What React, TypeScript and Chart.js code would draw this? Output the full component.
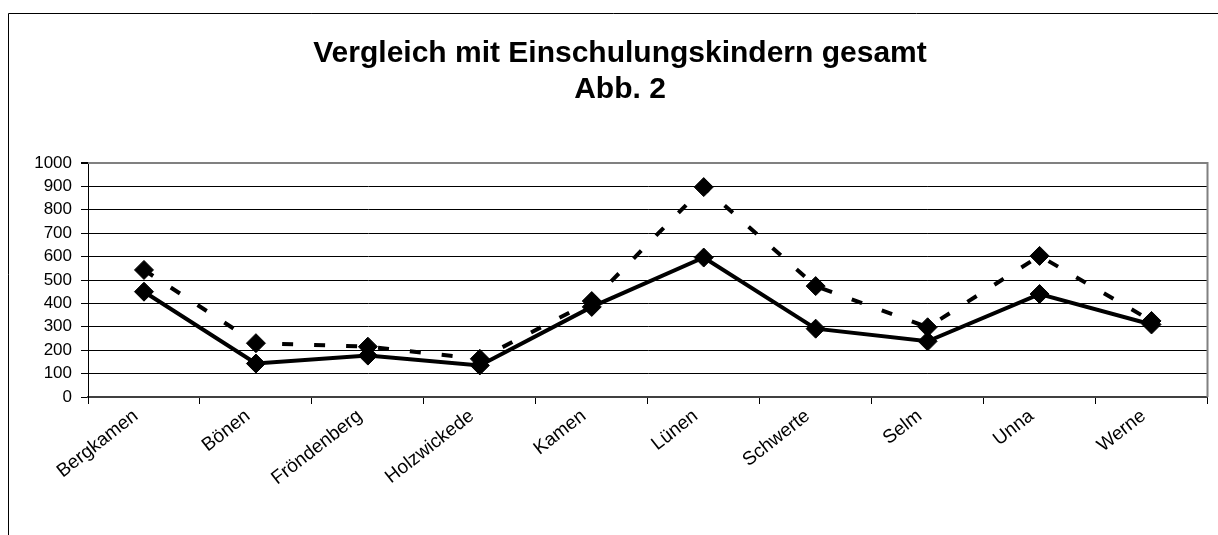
import React, { useEffect, useRef } from "react";
import { Chart, registerables } from "chart.js";

Chart.register(...registerables);

const categories = [
  "Bergkamen",
  "Bönen",
  "Fröndenberg",
  "Holzwickede",
  "Kamen",
  "Lünen",
  "Schwerte",
  "Selm",
  "Unna",
  "Werne",
];

const solidValues = [450, 143, 177, 135, 385, 596, 292, 238, 440, 310];
const dashedValues = [543, 230, 215, 163, 410, 897, 474, 298, 603, 325];

const titleLines = ["Vergleich mit Einschulungskindern gesamt", "Abb. 2"];

const yMin = 0;
const yMax = 1000;
const yStep = 100;

const FONT = "'Liberation Sans', Arial, Helvetica, sans-serif";

const framePlugin = {
  id: "frameAndPlotBorder",
  beforeDraw(chart: any) {
    const { ctx, width, height } = chart;
    ctx.save();
    ctx.fillStyle = "#ffffff";
    ctx.fillRect(0, 0, width, height);
    ctx.strokeStyle = "#000000";
    ctx.lineWidth = 1;
    ctx.beginPath();
    ctx.moveTo(8.5, height + 5);
    ctx.lineTo(8.5, 13.5);
    ctx.lineTo(width + 5, 13.5);
    ctx.stroke();
    ctx.restore();
  },
  beforeDatasetsDraw(chart: any) {
    const { ctx, chartArea } = chart;
    ctx.save();
    ctx.strokeStyle = "#808080";
    ctx.lineWidth = 2;
    ctx.beginPath();
    ctx.moveTo(chartArea.left, chartArea.top);
    ctx.lineTo(chartArea.right, chartArea.top);
    ctx.lineTo(chartArea.right, chartArea.bottom);
    ctx.stroke();
    ctx.restore();
  },
};

export default function App() {
  const canvasRef = useRef<HTMLCanvasElement | null>(null);

  useEffect(() => {
    document.body.style.margin = "0";
    const canvas = canvasRef.current;
    if (!canvas) return;
    const chart = new Chart(canvas, {
      type: "line",
      data: {
        labels: categories,
        datasets: [
          {
            label: "Einschulungskinder gesamt",
            data: dashedValues,
            borderColor: "#000000",
            backgroundColor: "#000000",
            borderWidth: 4,
            borderDash: [11, 21],
            borderCapStyle: "butt",
            pointStyle: "rectRot",
            pointRadius: 9.5,
            pointBorderWidth: 1,
            pointBackgroundColor: "#000000",
            pointBorderColor: "#000000",
            tension: 0,
            fill: false,
          },
          {
            label: "Vergleich",
            data: solidValues,
            borderColor: "#000000",
            backgroundColor: "#000000",
            borderWidth: 4,
            pointStyle: "rectRot",
            pointRadius: 9.5,
            pointBorderWidth: 1,
            pointBackgroundColor: "#000000",
            pointBorderColor: "#000000",
            tension: 0,
            fill: false,
          },
        ],
      },
      options: {
        responsive: false,
        animation: false,
        devicePixelRatio: 1,
        layout: { padding: { left: 31, right: 9, top: 0, bottom: 0 } },
        plugins: {
          legend: { display: false },
          tooltip: { enabled: false },
          title: {
            display: true,
            text: titleLines,
            color: "#000000",
            font: { family: FONT, size: 30, weight: "bold", lineHeight: 1.2 },
            padding: { top: 36, bottom: 55 },
          },
        },
        scales: {
          x: {
            type: "category",
            offset: true,
            grid: {
              display: true,
              offset: true,
              drawOnChartArea: false,
              drawTicks: true,
              tickLength: 7,
              color: "#000000",
            },
            border: { display: true, color: "#404040", width: 2 },
            ticks: {
              autoSkip: false,
              minRotation: 38,
              maxRotation: 38,
              padding: 1,
              labelOffset: -8,
              color: "#000000",
              font: { family: FONT, size: 19 },
            },
            afterFit(scale: any) {
              scale.height = 138;
            },
          },
          y: {
            type: "linear",
            min: yMin,
            max: yMax,
            grid: {
              display: true,
              drawTicks: true,
              tickLength: 7,
              color: (c: any) => (c.tick && c.tick.value === yMax ? "#808080" : "#000000"),
              tickColor: "#000000",
              lineWidth: (c: any) => (c.tick && c.tick.value === yMax ? 2 : 1),
            },
            border: { display: true, color: "#000000", width: 1 },
            ticks: {
              stepSize: yStep,
              padding: 9,
              color: "#000000",
              font: { family: FONT, size: 17 },
              callback: (v: any) => String(v),
            },
            afterFit(scale: any) {
              scale.width = 57;
            },
          },
        },
      },
      plugins: [framePlugin],
    });
    return () => chart.destroy();
  }, []);

  return (
    <div style={{ position: "absolute", left: 0, top: 0, width: 1218, height: 535 }}>
      <canvas ref={canvasRef} width={1218} height={535} style={{ display: "block" }} />
    </div>
  );
}
